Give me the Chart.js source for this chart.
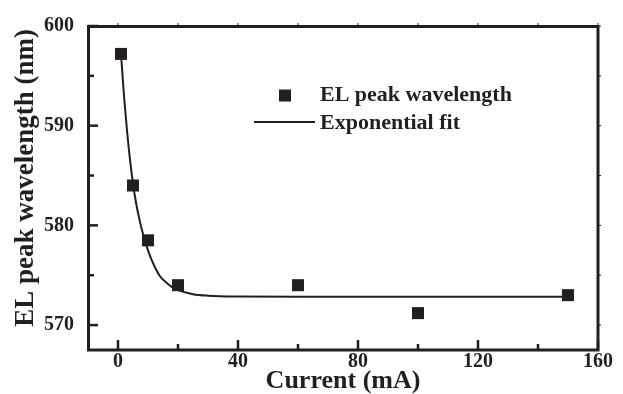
<!DOCTYPE html>
<html>
<head>
<meta charset="utf-8">
<script src="https://cdn.jsdelivr.net/npm/chart.js@4/dist/chart.umd.min.js"></script>
<style>
    body { margin: 0; background: #fff; }
    #wrap { width: 623px; height: 394px; }
</style>
</head>
<body>
<div id="wrap"><canvas id="chart" width="623" height="394"></canvas></div>
<script>
// measured EL peak positions
const currents = [1, 5, 10, 20, 60, 100, 150];
const peaks = [597.2, 584.0, 578.5, 574.0, 574.0, 571.2, 573.0];

// fit curve
const fitX = [1, 2, 3, 4, 5, 6, 7, 8, 10, 12, 14, 16, 18, 20, 25, 30, 40, 60, 100, 150];
const fitY = [597.2, 593.0, 589.5, 586.6, 584.2, 582.3, 580.8, 579.5, 577.5, 576.0, 574.9, 574.3, 573.8, 573.5, 573.1, 572.95, 572.87, 572.85, 572.85, 572.85];

const xTicks = [0, 40, 80, 120, 160];
const xMinor = [20, 60, 100, 140];
const yTicks = [570, 580, 590, 600];
const yMinor = [575, 585, 595];

const ink = '#231f20';
const serif = 'Liberation Serif, Times New Roman, serif';

document.addEventListener('DOMContentLoaded', () => {
    const ctx = document.getElementById('chart');

    // frame with inward ticks, like the origin-style plot
    const framePlugin = {
        id: 'frame',
        afterDraw(chart) {
            const c = chart.ctx;
            const a = chart.chartArea;
            const xs = chart.scales.x, ys = chart.scales.y;
            c.save();
            c.strokeStyle = ink;
            c.lineCap = 'butt';
            // ticks
            c.lineWidth = 2.5;
            const tickX = (vals, len) => vals.forEach(v => {
                const px = xs.getPixelForValue(v);
                c.beginPath(); c.moveTo(px, a.bottom); c.lineTo(px, a.bottom - len); c.stroke();
            });
            const tickY = (vals, len) => vals.forEach(v => {
                const py = ys.getPixelForValue(v);
                c.beginPath(); c.moveTo(a.left, py); c.lineTo(a.left + len, py); c.stroke();
            });
            tickX(xTicks, 10); tickX(xMinor, 6);
            tickY(yTicks, 10); tickY(yMinor, 6);
            // faint ticks on top and right
            c.lineWidth = 1;
            xTicks.concat(xMinor).forEach(v => {
                const px = xs.getPixelForValue(v);
                c.beginPath(); c.moveTo(px, a.top); c.lineTo(px, a.top - 3); c.stroke();
            });
            yTicks.concat(yMinor).forEach(v => {
                const py = ys.getPixelForValue(v);
                c.beginPath(); c.moveTo(a.right, py); c.lineTo(a.right + 3, py); c.stroke();
            });
            // box
            c.lineWidth = 3;
            c.strokeRect(a.left + 0.5, a.top + 0.5, a.right - a.left - 0.5, a.bottom - a.top - 0.5);
            c.restore();
        }
    };

    // legend inside the plot
    const legendPlugin = {
        id: 'innerLegend',
        afterDraw(chart) {
            const c = chart.ctx;
            const ds = chart.data.datasets;
            c.save();
            c.fillStyle = ink;
            c.strokeStyle = ink;
            c.fillRect(279, 89.5, 12, 12);
            c.lineWidth = 2;
            c.beginPath(); c.moveTo(254, 122); c.lineTo(315, 122); c.stroke();
            c.font = 'bold 22px ' + serif;
            c.textBaseline = 'middle';
            c.textAlign = 'left';
            c.fillText(ds[0].label, 320, 95.5);
            c.fillText(ds[1].label, 320, 123);
            c.restore();
        }
    };

    new Chart(ctx, {
        data: {
            datasets: [{
                type: 'scatter',
                label: 'EL peak wavelength',
                data: currents.map((x, i) => ({ x: x, y: peaks[i] })),
                pointStyle: 'rect',
                pointRadius: 8.5,
                pointBorderWidth: 0,
                backgroundColor: ink,
                order: 0
            }, {
                type: 'line',
                label: 'Exponential fit',
                data: fitX.map((x, i) => ({ x: x, y: fitY[i] })),
                borderColor: ink,
                borderWidth: 2,
                pointRadius: 0,
                cubicInterpolationMode: 'monotone',
                fill: false,
                order: 1
            }]
        },
        options: {
            responsive: false,
            animation: false,
            devicePixelRatio: 1,
            layout: { padding: { left: 0, top: 20, right: 25, bottom: 0 } },
            plugins: { legend: { display: false }, tooltip: { enabled: false } },
            scales: {
                x: {
                    type: 'linear',
                    min: -10,
                    max: 160,
                    grid: { display: false, drawTicks: false },
                    border: { display: false },
                    afterBuildTicks: s => { s.ticks = xTicks.map(v => ({ value: v })); },
                    afterFit: s => { s.height = 44; },
                    ticks: { color: ink, padding: 0, font: { family: serif, size: 20, weight: 'bold' } },
                    title: {
                        display: true,
                        text: 'Current (mA)',
                        color: ink,
                        padding: { top: 0, bottom: -3 },
                        font: { family: serif, size: 26, weight: 'bold' }
                    }
                },
                y: {
                    type: 'linear',
                    min: 567.5,
                    max: 600,
                    grid: { display: false, drawTicks: false },
                    border: { display: false },
                    afterBuildTicks: s => { s.ticks = yTicks.map(v => ({ value: v })); },
                    afterFit: s => { s.width = 88; },
                    ticks: { color: ink, padding: 14, font: { family: serif, size: 20, weight: 'bold' } },
                    title: {
                        display: true,
                        text: '   EL peak wavelength (nm)',
                        color: ink,
                        padding: { top: 9.5, bottom: 0 },
                        font: { family: serif, size: 27, weight: 'bold' }
                    }
                }
            }
        },
        plugins: [framePlugin, legendPlugin]
    });
});
</script>
</body>
</html>
